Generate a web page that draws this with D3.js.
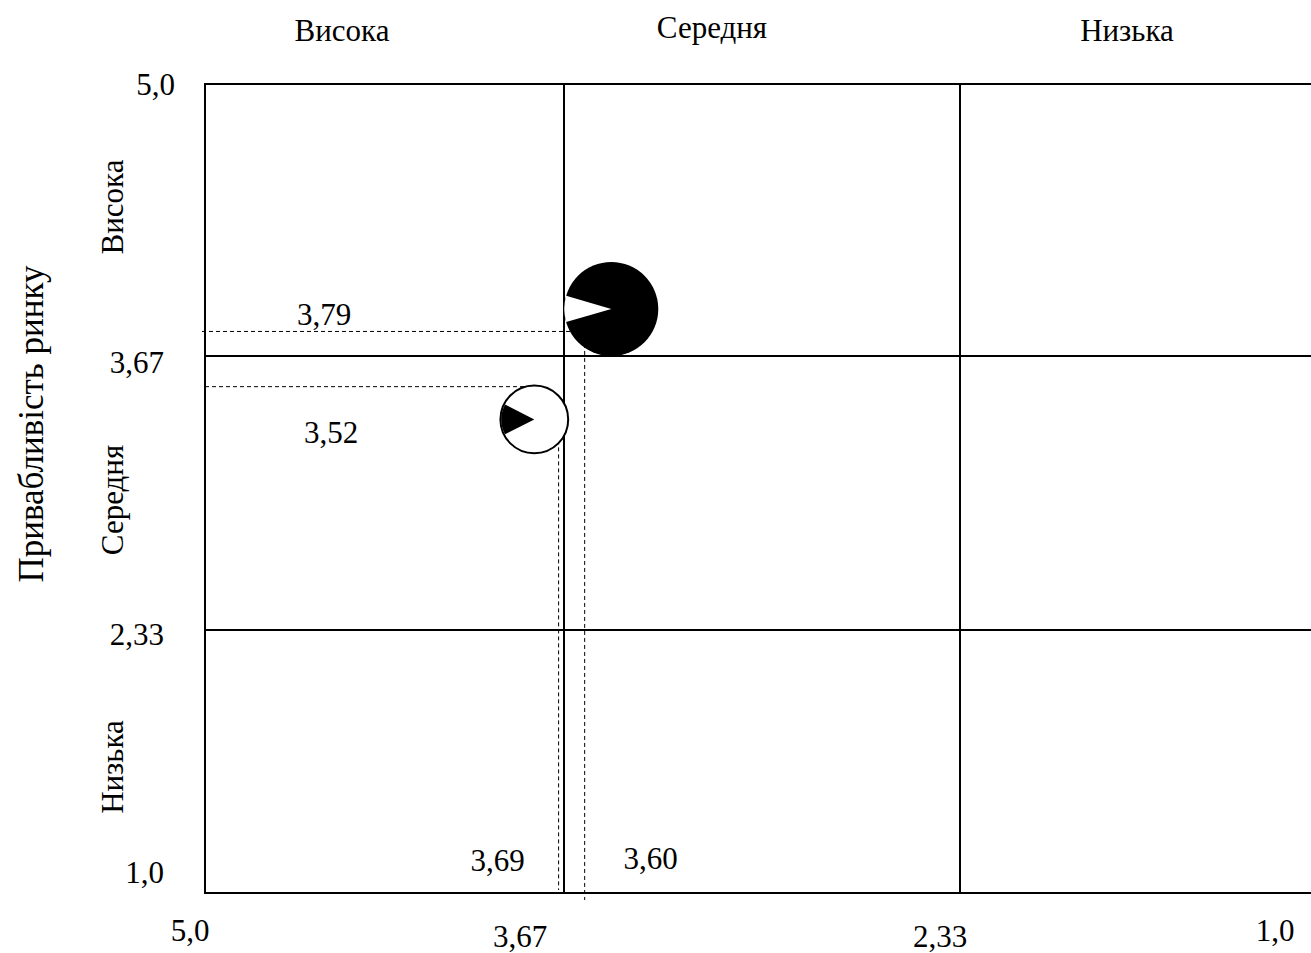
<!DOCTYPE html>
<html><head><meta charset="utf-8">
<script src="https://cdn.jsdelivr.net/npm/d3@7"></script>
<style>html,body{margin:0;padding:0;background:#fff;overflow:hidden}</style>
</head><body><svg id="chart" width="1311" height="953"></svg>
<script>
// ---- data ----
const zoneLabels = ["Висока", "Середня", "Низька"];
const axisTitleY = "Привабливість ринку";
const xTickValues = [5.0, 3.67, 2.33, 1.0];
const xTickLabels = ["5,0", "3,67", "2,33", "1,0"];
const yTickValues = [5.0, 3.67, 2.33, 1.0];
const yTickLabels = ["5,0", "3,67", "2,33", "1,0"];
const bubbleX = [3.51, 3.78];      // bubble centres (competitive position)
const bubbleY = [3.90, 3.36];      // bubble centres (market attractiveness)
const bubbleSize = [1.0, 0.52];    // relative market size
const bubbleShare = [0.09, 0.15];  // share slice
const guideX = [3.60, 3.69];
const guideY = [3.79, 3.52];
const guideLabelsX = ["3,60", "3,69"];
const guideLabelsY = ["3,79", "3,52"];

// ---- layout ----
const svg = d3.select("#chart");
const FONT = "'Liberation Serif','Times New Roman',serif";
const FS = 31;
const x = d3.scaleLinear().domain(xTickValues).range([205, 564, 960, 1356]);
const y = d3.scaleLinear().domain(yTickValues).range([84, 356, 630, 893]);
const r = d3.scaleSqrt().domain([0, 1]).range([0, 47]);

function txt(sel, fs) { return sel.attr("font-family", FONT).attr("font-size", fs || FS).attr("fill", "#000"); }

// frame
svg.append("rect")
  .attr("x", x(5)).attr("y", y(5))
  .attr("width", x(1) - x(5)).attr("height", y(1) - y(5))
  .attr("fill", "none").attr("stroke", "#000").attr("stroke-width", 2);

// inner grid
svg.selectAll("line.vgrid").data([3.67, 2.33]).enter().append("line")
  .attr("x1", d => x(d)).attr("x2", d => x(d))
  .attr("y1", y(5)).attr("y2", y(1))
  .attr("stroke", "#000").attr("stroke-width", 2);
svg.selectAll("line.hgrid").data([3.67, 2.33]).enter().append("line")
  .attr("y1", d => y(d)).attr("y2", d => y(d))
  .attr("x1", x(5)).attr("x2", x(1))
  .attr("stroke", "#000").attr("stroke-width", 2);

// top zone labels
const topLayout = [{x: 342, y: 30}, {x: 712, y: 27}, {x: 1127, y: 30}];
zoneLabels.forEach((t, i) => {
  txt(svg.append("text")).attr("x", topLayout[i].x).attr("y", topLayout[i].y)
    .attr("dy", "0.35em").attr("text-anchor", "middle").text(t);
});
// left zone labels (rotated)
const leftMids = [207, 500, 767];
zoneLabels.forEach((t, i) => {
  txt(svg.append("text"))
    .attr("transform", `translate(112,${leftMids[i]}) rotate(-90)`)
    .attr("dy", "0.35em").attr("text-anchor", "middle").text(t);
});
// y axis title
txt(svg.append("text"), 35)
  .attr("transform", "translate(31,424) rotate(-90)")
  .attr("dy", "0.35em").attr("text-anchor", "middle").text(axisTitleY);

// y tick labels
const yTickLayout = [{dx: -30, dy: 0}, {dx: -41, dy: 6}, {dx: -41, dy: 4}, {dx: -41, dy: -21}];
yTickValues.forEach((v, i) => {
  txt(svg.append("text")).attr("x", x(5) + yTickLayout[i].dx).attr("y", y(v) + yTickLayout[i].dy)
    .attr("dy", "0.35em").attr("text-anchor", "end").text(yTickLabels[i]);
});
// x tick labels (baseline offsets below frame)
const xTickLayout = [{dx: -15, dy: 48}, {dx: -44, dy: 54}, {dx: -20, dy: 54}, {dx: -81, dy: 48}];
xTickValues.forEach((v, i) => {
  txt(svg.append("text")).attr("x", x(v) + xTickLayout[i].dx).attr("y", y(1) + xTickLayout[i].dy)
    .attr("text-anchor", "middle").text(xTickLabels[i]);
});

// guides
const dash = "4,3";
guideY.forEach((v, i) => {
  svg.append("line").attr("x1", x(5) - (i === 0 ? 3 : 0)).attr("x2", x(bubbleX[i]))
    .attr("y1", y(v)).attr("y2", y(v))
    .attr("stroke", "#000").attr("stroke-width", 1).attr("stroke-dasharray", dash);
});
const vEnd = [7, -3];
guideX.forEach((v, i) => {
  svg.append("line").attr("x1", x(v)).attr("x2", x(v))
    .attr("y1", y(bubbleY[i])).attr("y2", y(1) + vEnd[i])
    .attr("stroke", "#000").attr("stroke-width", 1).attr("stroke-dasharray", dash);
});
// guide labels
const gyLayout = [{dx: 119, dy: -17}, {dx: 126, dy: 45}];
guideY.forEach((v, i) => {
  txt(svg.append("text")).attr("x", x(5) + gyLayout[i].dx).attr("y", y(v) + gyLayout[i].dy)
    .attr("dy", "0.35em").attr("text-anchor", "middle").text(guideLabelsY[i]);
});
const gxLayout = [{dx: 66, dy: -35}, {dx: -61, dy: -33}];
guideX.forEach((v, i) => {
  txt(svg.append("text")).attr("x", x(v) + gxLayout[i].dx).attr("y", y(1) + gxLayout[i].dy)
    .attr("dy", "0.35em").attr("text-anchor", "middle").text(guideLabelsX[i]);
});

// bubbles
const fills = ["#000", "#fff"], wedgeFills = ["#fff", "#000"];
bubbleX.forEach((bx, i) => {
  const g = svg.append("g").attr("transform", `translate(${x(bx)},${y(bubbleY[i])})`);
  const rad = r(bubbleSize[i]);
  g.append("circle").attr("r", rad).attr("fill", fills[i])
    .attr("stroke", "#000").attr("stroke-width", i === 1 ? 2 : 0);
  const half = bubbleShare[i] * Math.PI;
  const arc = d3.arc().innerRadius(0).outerRadius(rad - (i === 1 ? 1 : 0))
    .startAngle(1.5 * Math.PI - half).endAngle(1.5 * Math.PI + half);
  g.append("path").attr("d", arc()).attr("fill", wedgeFills[i]);
});
</script>
</body></html>
